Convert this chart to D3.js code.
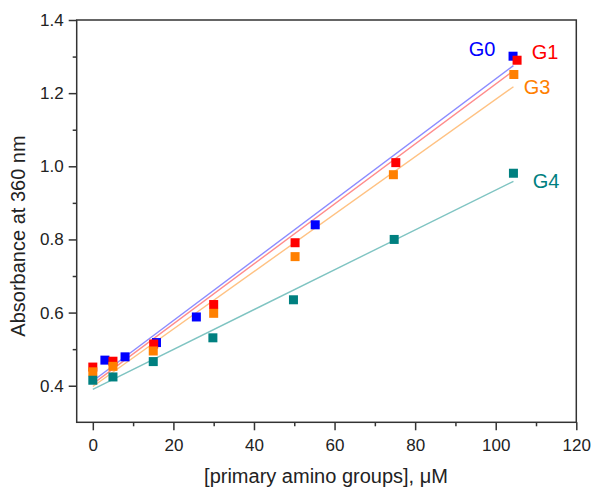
<!DOCTYPE html>
<html>
<head>
<meta charset="utf-8">
<script src="https://cdn.jsdelivr.net/npm/d3@7"></script>
<style>
  body { margin: 0; background: #fff; }
  text { font-family: "Liberation Sans", Arial, sans-serif; }
</style>
</head>
<body>
<svg id="chart" width="592" height="490"></svg>
<script>
// data
var seriesNames = ["G0", "G1", "G3", "G4"];
var g0 = [[3, 0.47], [8, 0.479], [15.8, 0.518], [25.7, 0.588], [55.2, 0.84], [104.3, 1.301]];
var g1 = [[0, 0.451], [5, 0.467], [15.1, 0.514], [30, 0.622], [50.2, 0.791], [75.2, 1.01], [105.3, 1.29]];
var g3 = [[0, 0.438], [5, 0.453], [15, 0.495], [30, 0.598], [50.2, 0.753], [74.6, 0.977], [104.5, 1.251]];
var g4 = [[0, 0.415], [5, 0.424], [15, 0.466], [29.8, 0.531], [49.8, 0.635], [74.8, 0.80], [104.4, 0.981]];
// linear fits: [intercept, slope], drawn from x = 0 to fitEnd
var fits = [[0.413, 0.00826], [0.405, 0.00820], [0.398, 0.00785], [0.390, 0.00545]];
var fitEnd = 104.4;
var xTicks = [0, 20, 40, 60, 80, 100, 120];
var yTicks = [0.4, 0.6, 0.8, 1.0, 1.2, 1.4];

var pointColors = ["#0000ff", "#ff0000", "#ff8000", "#008080"];
var lineColors = ["#8c8cff", "#ff8c8c", "#ffc283", "#7fc4c2"];
var labelPos = [[482, 56], [545, 59], [537, 94], [546, 188]];

var svg = d3.select("#chart");
var x = d3.scaleLinear().domain([-4, 120]).range([76.7, 576.3]);
var y = d3.scaleLinear().domain([0.3, 1.4]).range([422.3, 20]);

var allSeries = [g0, g1, g3, g4];

// fit lines
svg.selectAll(".fit")
  .data(fits)
  .enter().append("line")
    .attr("x1", x(0))
    .attr("x2", x(fitEnd))
    .attr("y1", function(d) { return y(d[0]); })
    .attr("y2", function(d) { return y(d[0] + d[1] * fitEnd); })
    .attr("stroke", function(d, i) { return lineColors[i]; })
    .attr("stroke-width", 1.4);

// markers
var s = 9;
allSeries.forEach(function(data, i) {
  svg.append("g").selectAll("rect")
    .data(data)
    .enter().append("rect")
      .attr("x", function(d) { return x(d[0]) - s / 2; })
      .attr("y", function(d) { return y(d[1]) - s / 2; })
      .attr("width", s)
      .attr("height", s)
      .attr("fill", pointColors[i]);
});

// frame
var axisColor = "#333";
svg.append("rect")
  .attr("x", x.range()[0]).attr("y", y.range()[1])
  .attr("width", x.range()[1] - x.range()[0])
  .attr("height", y.range()[0] - y.range()[1])
  .attr("fill", "none").attr("stroke", axisColor).attr("stroke-width", 1.5);

// x axis
var xAxis = svg.append("g").attr("transform", "translate(0," + y.range()[0] + ")");
xAxis.call(d3.axisBottom(x).tickValues(xTicks).tickSize(8).tickPadding(9).tickFormat(d3.format("d")));
xAxis.append("g").call(d3.axisBottom(x).tickValues(d3.range(10, 120, 20)).tickSize(4).tickFormat(""));
xAxis.selectAll(".domain").remove();
xAxis.selectAll("line").attr("stroke", axisColor).attr("stroke-width", 1.5);
xAxis.selectAll("text").attr("font-size", 17).attr("fill", "#222")
  .attr("font-family", "'Liberation Sans', Arial, sans-serif");

// y axis
var yAxis = svg.append("g").attr("transform", "translate(" + x.range()[0] + ",0)");
yAxis.call(d3.axisLeft(y).tickValues(yTicks).tickSize(8).tickPadding(5).tickFormat(d3.format(".1f")));
yAxis.append("g").call(d3.axisLeft(y).tickValues([0.5, 0.7, 0.9, 1.1, 1.3]).tickSize(4).tickFormat(""));
yAxis.selectAll(".domain").remove();
yAxis.selectAll("line").attr("stroke", axisColor).attr("stroke-width", 1.5);
yAxis.selectAll("text").attr("font-size", 17).attr("fill", "#222")
  .attr("font-family", "'Liberation Sans', Arial, sans-serif");

// titles
svg.append("text")
  .attr("x", 326).attr("y", 483)
  .attr("text-anchor", "middle")
  .attr("font-size", 20).attr("fill", "#222")
  .text("[primary amino groups], μM");

svg.append("text")
  .attr("transform", "translate(25,236) rotate(-90)")
  .attr("text-anchor", "middle")
  .attr("font-size", 20).attr("fill", "#222")
  .text("Absorbance at 360 nm");

// series labels
svg.selectAll(".lbl")
  .data(seriesNames)
  .enter().append("text")
    .attr("x", function(d, i) { return labelPos[i][0]; })
    .attr("y", function(d, i) { return labelPos[i][1]; })
    .attr("text-anchor", "middle")
    .attr("font-size", 20)
    .attr("fill", function(d, i) { return pointColors[i]; })
    .text(function(d) { return d; });
</script>
</body>
</html>
